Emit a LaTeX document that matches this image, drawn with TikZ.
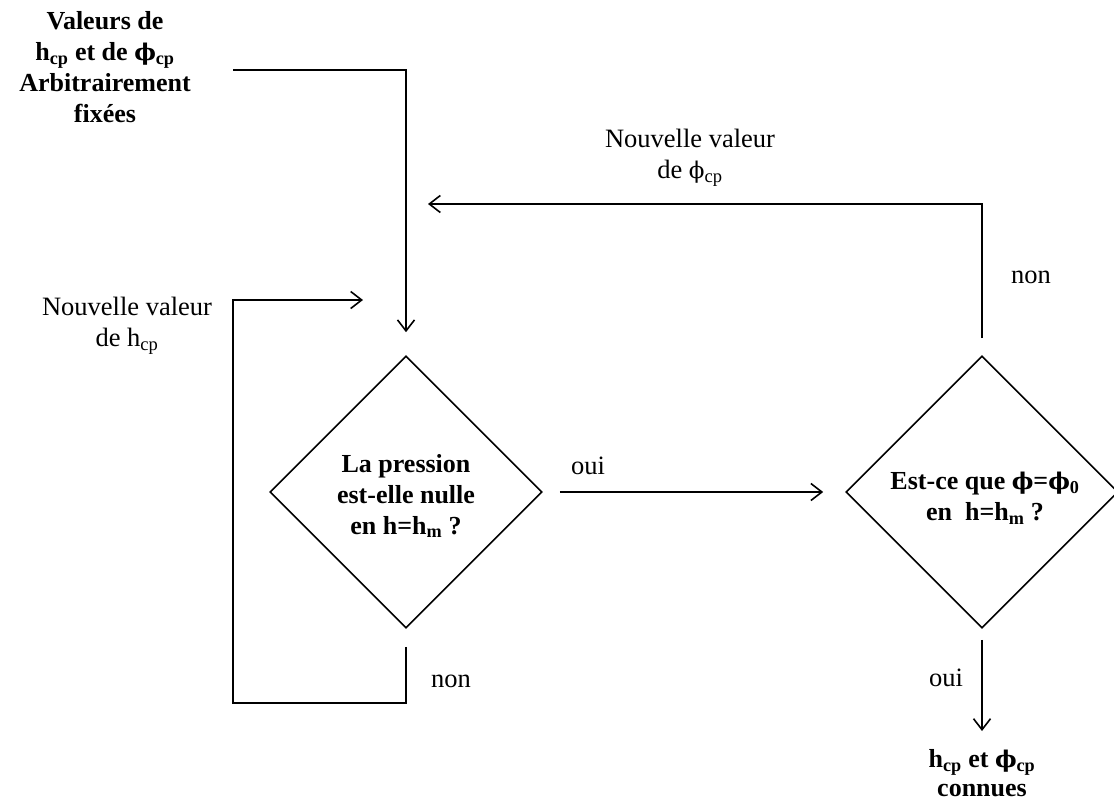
\documentclass[tikz,border=0pt]{standalone}
\usepackage{fontspec}
\setmainfont{Liberation Serif}
\newfontfamily\phifont{DejaVu Serif}
\usetikzlibrary{shapes.geometric,arrows.meta,calc}
\newcommand{\ph}{{\phifont\fontsize{23}{31}\selectfont ϕ}}
\newcommand{\sub}[1]{\textsubscript{#1}}
\begin{document}
\begin{tikzpicture}[x=1pt,y=-1pt,
  every node/.style={font=\fontsize{26.5}{31}\selectfont, inner sep=0pt, align=center},
  boldtxt/.style={font=\fontsize{26}{31}\selectfont\bfseries},
  decision/.style={draw, diamond, aspect=1, minimum width=272pt, minimum height=272pt, line width=1.6pt},
  link/.style={line width=1.6pt},
  arr/.style={link, -{Straight Barb[length=11pt,width=17pt,line width=1.6pt]}}]
\useasboundingbox (0,0) rectangle (1114,803);

% decisions
\node[decision] (d1) at (406,492) {};
\node[decision] (d2) at (982,492) {};
\node[boldtxt] (t1) at (406,496) {La pression\\est-elle nulle\\en h=h\sub{m} ?};
\node[boldtxt] (t2) at (985,498) {Est-ce que \ph=\ph\sub{0}\\en~~h=h\sub{m} ?};

% texts
\node[boldtxt] (start) at (105,67) {Valeurs de\\h\sub{cp} et de \ph\sub{cp}\\Arbitrairement\\fixées};
\node[boldtxt, font=\fontsize{26}{29}\selectfont\bfseries] (end) at (982,773) {h\sub{cp} et \ph\sub{cp}\\connues};
\node (nvphi) at (690,158) {Nouvelle valeur\\de \ph\sub{cp}};
\node (nvh) at (127,326) {Nouvelle valeur\\de h\sub{cp}};
\node (oui1) at (588,466) {oui};
\node (non1) at (451,681) {non};
\node (non2) at (1031,277) {non};
\node (oui2) at (946,678) {oui};

% coordinates
\coordinate (s0) at (233,70);
\coordinate (s1) at ($(d1.north)+(0,-23)$);
\coordinate (l0) at ($(d1.south)+(0,18)$);
\coordinate (l1) at (406,703);
\coordinate (l2) at (233,703);
\coordinate (l3) at (233,300);
\coordinate (l4) at (363,300);
\coordinate (o0) at ($(d1.east)+(17,0)$);
\coordinate (o1) at ($(d2.west)+(-22,0)$);
\coordinate (r0) at ($(d2.north)+(0,-17)$);
\coordinate (r1) at (428,204);
\coordinate (b0) at ($(d2.south)+(0,11)$);
\coordinate (b1) at (982,731);

% connectors
\draw[arr] (s0) -| (s1);
\draw[arr] (l0) -- (l1) -- (l2) -- (l3) -- (l4);
\draw[arr] (o0) -- (o1);
\draw[arr] (r0) |- (r1);
\draw[arr] (b0) -- (b1);
\end{tikzpicture}
\end{document}
